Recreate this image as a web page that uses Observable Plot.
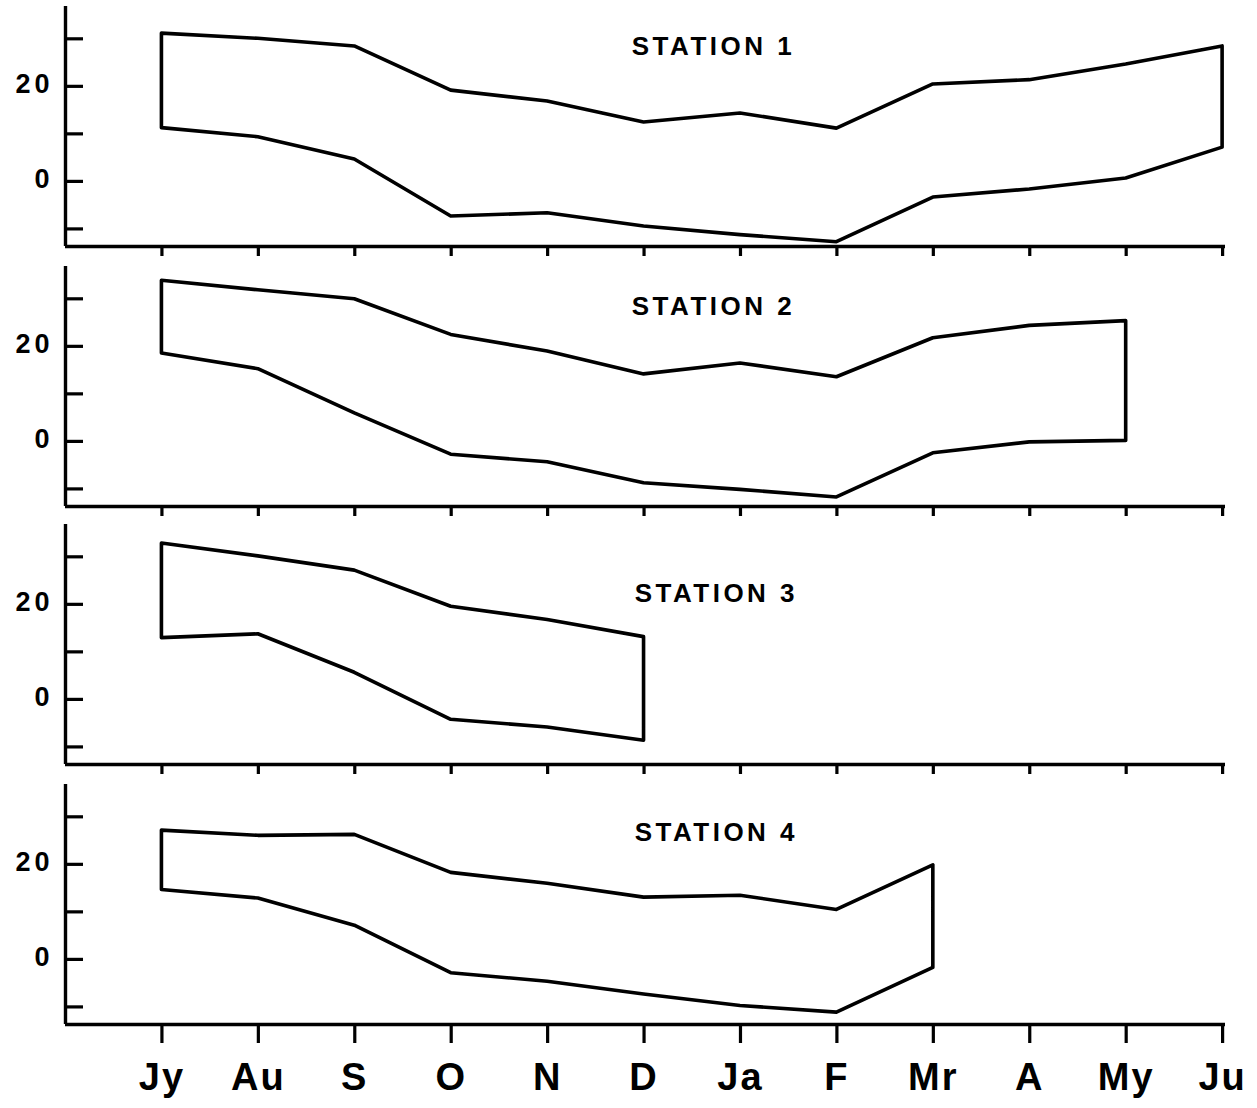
<!DOCTYPE html>
<html>
<head>
<meta charset="utf-8">
<script src="https://cdn.jsdelivr.net/npm/d3@7"></script>
<script src="https://cdn.jsdelivr.net/npm/@observablehq/plot@0.6"></script>
<style>
  body { margin: 0; background: #fff; }
  #chart svg { display: block; }
  #chart [aria-label="y-axis tick label"] text { letter-spacing: 4px; }
  #chart [aria-label="x-axis tick label"] text { letter-spacing: 2px; }
</style>
</head>
<body>
<div id="chart"></div>
<script>
// ---- data ----
const months = ["Jy", "Au", "S", "O", "N", "D", "Ja", "F", "Mr", "A", "My", "Ju"];
const yTicks = [30, 20, 10, 0, -10];
const yTickLabels = [20, 0];
const stationNames = ["STATION 1", "STATION 2", "STATION 3", "STATION 4"];

const station1Max = [31.1, 30.0, 28.4, 19.1, 16.8, 12.4, 14.3, 11.1, 20.4, 21.3, 24.6, 28.4];
const station1Min = [11.2, 9.3, 4.6, -7.4, -6.7, -9.5, -11.3, -12.8, -3.4, -1.7, 0.6, 7.1];

const station2Max = [33.8, 31.8, 29.9, 22.4, 18.9, 14.1, 16.4, 13.5, 21.7, 24.3, 25.3];
const station2Min = [18.5, 15.2, 5.9, -2.8, -4.4, -8.8, -10.2, -11.8, -2.5, -0.2, 0.1];

const station3Max = [32.8, 30.1, 27.1, 19.5, 16.7, 13.1];
const station3Min = [12.9, 13.7, 5.6, -4.3, -5.9, -8.7];

const station4Max = [27.1, 26.0, 26.2, 18.2, 15.9, 13.0, 13.4, 10.4, 19.8];
const station4Min = [14.6, 12.8, 7.1, -2.9, -4.7, -7.4, -9.8, -11.2, -1.8];

// ---- layout ----
const xDomain = [-1, 11.03];
const yDomain = [-13.7, 36.8];
const W = 1257, mL = 65, mR = 32, mT = 6, plotH = 240;
const pxPerIndex = (W - mL - mR) / (xDomain[1] - xDomain[0]);
const yTickLen = 18 / pxPerIndex;

const series = [
  [station1Max, station1Min],
  [station2Max, station2Min],
  [station3Max, station3Min],
  [station4Max, station4Min]
];
const layout = [
  {height: 260, titleX: 5.72, titleY: 28.4},
  {height: 258, titleX: 5.72, titleY: 28.4},
  {height: 260, titleX: 5.75, titleY: 22.2},
  {height: 330, titleX: 5.75, titleY: 26.7}
];

const font = "'Liberation Sans', Arial, sans-serif";
const root = document.getElementById("chart");

series.forEach(([hi, lo], p) => {
  const L = layout[p];
  const last = p === series.length - 1;
  const rows = hi.map((h, i) => ({i, hi: h, lo: lo[i]}));
  const marks = [
    Plot.areaY(rows, {x: "i", y1: "lo", y2: "hi", fill: "none", stroke: "black", strokeWidth: 3.6, strokeLinejoin: "round"}),
    Plot.ruleX([xDomain[0]], {stroke: "black", strokeWidth: 3.4}),
    Plot.ruleY([yDomain[0]], {stroke: "black", strokeWidth: 3.4}),
    Plot.ruleY(yTicks, {x1: xDomain[0], x2: xDomain[0] + yTickLen, stroke: "black", strokeWidth: 3.2}),
    Plot.axisY({ticks: yTickLabels, tickSize: 0, tickPadding: 12, fontSize: 27, fontWeight: "bold", label: null, dy: -2}),
    Plot.axisX({
      ticks: d3.range(months.length),
      tickFormat: last ? (i => months[i]) : (() => ""),
      tickSize: last ? 19 : 10,
      tickPadding: 20,
      fontSize: 38,
      fontWeight: "bold",
      strokeWidth: 3.2,
      label: null
    }),
    Plot.text([stationNames[p]], {x: () => L.titleX, y: () => L.titleY, text: d => d, fontSize: 26, fontWeight: "bold"})
  ];
  const svg = Plot.plot({
    width: W,
    height: L.height,
    marginLeft: mL,
    marginRight: mR,
    marginTop: mT,
    marginBottom: L.height - mT - plotH,
    x: {domain: xDomain},
    y: {domain: yDomain},
    style: {fontFamily: font, color: "black", background: "white", overflow: "visible"},
    marks
  });
  svg.querySelectorAll("text").forEach(t => {
    if (stationNames.includes(t.textContent)) t.style.letterSpacing = "3.5px";
  });
  root.appendChild(svg);
});
</script>
</body>
</html>
